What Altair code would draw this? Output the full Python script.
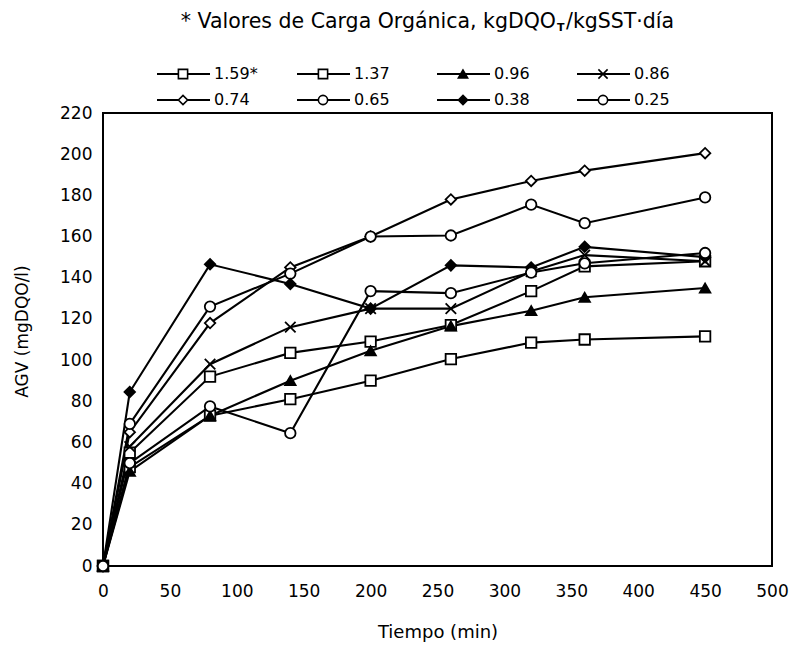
import altair as alt
import pandas as pd

# Sampling times (min)
times = [0, 20, 80, 140, 200, 260, 320, 360, 450]

# Organic loading rates, kgDQO_T/kgSST·día (legend order)
labels = ["1.59*", "1.37", "0.96", "0.86", "0.74", "0.65", "0.38", "0.25"]

# AGV (mgDQO/l) for each loading rate
agv_159 = [0, 55, 92, 103.5, 109, 117, 133.5, 145.5, 148]
agv_137 = [0, 48, 73, 81, 90, 100.5, 108.5, 110, 111.5]
agv_096 = [0, 46, 73, 90, 104.5, 116.5, 124, 130.5, 135]
agv_086 = [0, 58, 98, 116, 125, 125, 143, 151, 148]
agv_074 = [0, 65, 118, 145, 160, 178, 187, 192, 200.5]
agv_065 = [0, 69, 126, 142, 160, 160.5, 175.5, 166.5, 179]
agv_038 = [0, 84.5, 146.5, 137, 125, 146, 145, 155, 150]
agv_025 = [0, 50, 77.5, 64.5, 133.5, 132.5, 142.5, 147, 152]

series_values = [agv_159, agv_137, agv_096, agv_086, agv_074, agv_065, agv_038, agv_025]

x_ticks = [0, 50, 100, 150, 200, 250, 300, 350, 400, 450, 500]
y_ticks = [0, 20, 40, 60, 80, 100, 120, 140, 160, 180, 200, 220]

FONT = "DejaVu Sans"
X_MARK = "M-1,-1L1,1M-1,1L1,-1"

shapes = ["square", "square", "triangle-up", X_MARK, "diamond", "circle", "diamond", "circle"]
fills = ["white", "white", "black", "white", "white", "white", "black", "white"]
sizes = [110, 110, 150, 110, 150, 115, 150, 115]

rows = []
for lab, vals in zip(labels, series_values):
    for t, v in zip(times, vals):
        rows.append({"serie": lab, "tiempo": t, "agv": v})
df = pd.DataFrame(rows)

legend_df = pd.DataFrame({
    "serie": labels,
    "col": [i % 4 for i in range(len(labels))],
    "row": [i // 4 for i in range(len(labels))],
})

shape_scale = alt.Scale(domain=labels, range=shapes)
fill_scale = alt.Scale(domain=labels, range=fills)
size_scale = alt.Scale(domain=labels, range=sizes)

x_enc = alt.X(
    "tiempo:Q",
    scale=alt.Scale(domain=[0, 500], nice=False),
    axis=alt.Axis(
        values=x_ticks, title="Tiempo (min)", grid=False, ticks=False, tickSize=0,
        domain=False, labelFontSize=17, labelFont=FONT, labelColor="black",
        labelPadding=17, labelFlush=False, titleFont=FONT, titleFontSize=18,
        titleFontWeight="normal", titleColor="black", titleY=66, titleBaseline="middle",
    ),
)
y_enc = alt.Y(
    "agv:Q",
    scale=alt.Scale(domain=[0, 220], nice=False),
    axis=alt.Axis(
        values=y_ticks, title="AGV (mgDQO/l)", grid=False, ticks=False, tickSize=0,
        domain=False, labelFontSize=17, labelFont=FONT, labelColor="black",
        labelPadding=11, labelFlush=False, titleFont=FONT, titleFontSize=17,
        titleFontWeight="normal", titleColor="black", titleAngle=-90,
        titleX=-81, titleY=218, titleBaseline="middle", titleAlign="center",
    ),
)

base = alt.Chart(df)

lines = base.mark_line(color="black", strokeWidth=2.1, clip=False).encode(
    x=x_enc, y=y_enc, detail="serie:N", order="tiempo:Q"
)

points = base.mark_point(filled=True, stroke="black", strokeWidth=1.8, opacity=1, clip=False).encode(
    x=alt.X("tiempo:Q"),
    y=alt.Y("agv:Q"),
    shape=alt.Shape("serie:N", scale=shape_scale, legend=None),
    fill=alt.Fill("serie:N", scale=fill_scale, legend=None),
    size=alt.Size("serie:N", scale=size_scale, legend=None),
)

plot = alt.layer(lines, points)

# Legend block above the plot: four columns, two rows
leg_x = alt.X("col:Q", scale=alt.Scale(domain=[0, 4], range=[54, 614]), axis=None)
leg_y = alt.Y("row:Q", scale=alt.Scale(domain=[0, 1], range=[-39, -13]), axis=None)

leg_base = alt.Chart(legend_df)
leg_lines = leg_base.mark_rule(color="black", strokeWidth=2, x2Offset=53).encode(
    x=leg_x, x2=alt.X2("col:Q"), y=leg_y
)
leg_points = leg_base.mark_point(filled=True, stroke="black", strokeWidth=1.6, opacity=1, xOffset=26).encode(
    x=leg_x, y=leg_y,
    shape=alt.Shape("serie:N", scale=shape_scale, legend=None),
    fill=alt.Fill("serie:N", scale=fill_scale, legend=None),
    size=alt.value(85),
)
leg_text = leg_base.mark_text(
    align="left", baseline="middle", dx=57, fontSize=16, font=FONT, color="black"
).encode(x=leg_x, y=leg_y, text="serie:N")

legend = alt.layer(leg_lines, leg_points, leg_text)

# Header: loading-rate units with subscript T
title_a = alt.Chart(pd.DataFrame({"t": ["* Valores de Carga Orgánica, kgDQO"]})).mark_text(
    align="right", baseline="alphabetic", fontSize=20.5, font=FONT, color="black"
).encode(text="t:N", x=alt.value(453), y=alt.value(-85))
title_sub = alt.Chart(pd.DataFrame({"t": ["T"]})).mark_text(
    align="left", baseline="alphabetic", fontSize=11, fontWeight="bold", font=FONT, color="black"
).encode(text="t:N", x=alt.value(454), y=alt.value(-82))
title_b = alt.Chart(pd.DataFrame({"t": ["/kgSST·día"]})).mark_text(
    align="left", baseline="alphabetic", fontSize=20.5, font=FONT, color="black"
).encode(text="t:N", x=alt.value(463), y=alt.value(-85))

chart = alt.layer(plot, legend, title_a, title_sub, title_b).resolve_scale(
    x="independent", y="independent"
).properties(
    width=669,
    height=453,
    padding={"left": 103, "top": 113, "right": 22, "bottom": 79},
    autosize=alt.AutoSizeParams(type="none"),
    background="white",
).configure_view(stroke="black", strokeWidth=2)

chart.save("out.html", embed_options={"renderer": "svg", "actions": False})
